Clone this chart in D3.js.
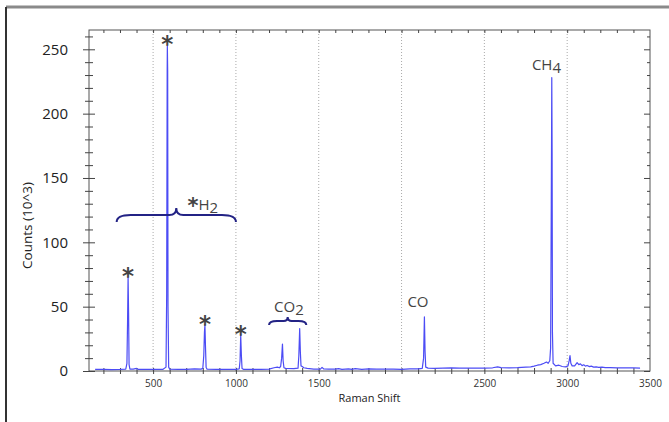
<!DOCTYPE html>
<html>
<head>
<meta charset="utf-8">
<script src="https://cdn.jsdelivr.net/npm/d3@7"></script>
<style>
  body { margin: 0; background: #fff; }
  svg text { font-family: "Open Sans", "Noto Sans", sans-serif; }
</style>
</head>
<body>
<div id="chart"></div>
<script>
// spectrum
const shift = [150, 200, 250, 300, 335, 342, 346, 349, 352, 355, 360, 380, 400, 410, 450, 500, 560,
  578, 582, 585, 586, 588, 590, 594, 600, 650, 700, 750, 790, 800, 806, 810, 813, 816, 820, 826,
  880, 950, 1000, 1020, 1025, 1029, 1033, 1037, 1045, 1100, 1150, 1200, 1230, 1250, 1262, 1270,
  1276, 1281, 1285, 1290, 1300, 1350, 1375, 1380, 1385, 1389, 1393, 1400, 1410, 1430, 1470, 1500,
  1510, 1520, 1530, 1560, 1600, 1620, 1640, 1680, 1700, 1720, 1760, 1800, 1850, 1900, 1950, 2000,
  2050, 2100, 2125, 2133, 2138, 2142, 2146, 2160, 2200, 2250, 2300, 2350, 2400, 2450, 2500, 2550,
  2580, 2600, 2650, 2700, 2750, 2780, 2800, 2820, 2840, 2860, 2875, 2885, 2895, 2900, 2904, 2906,
  2907, 2909, 2911, 2915, 2930, 2950, 2970, 2990, 3005, 3012, 3017, 3022, 3030, 3045, 3060, 3070,
  3080, 3090, 3100, 3110, 3120, 3135, 3145, 3160, 3175, 3190, 3210, 3230, 3260, 3300, 3350, 3400, 3440];
const counts = [1.2, 1.3, 1.0, 1.2, 1.5, 6, 40, 73, 45, 5, 1.5, 1.4, 2.0, 1.3, 1.2, 1.2, 1.3,
  3, 60, 233, 253, 233, 50, 3, 1.5, 1.3, 1.2, 1.6, 1.5, 2, 12, 30, 36, 20, 3, 1.4,
  1.2, 1.2, 1.3, 1.6, 8, 28, 12, 2, 1.3, 1.2, 1.3, 1.4, 2.5, 3, 2.5, 3.5,
  10, 21, 8, 2.5, 2, 1.8, 2.2, 12, 33, 15, 4, 3.5, 2.5, 2, 1.5, 1.4,
  1.5, 2.8, 1.6, 1.4, 1.5, 1.9, 1.3, 1.7, 1.3, 1.8, 1.3, 1.6, 1.4, 1.4, 1.4, 1.3,
  1.6, 1.7, 2, 10, 42, 15, 3, 2.2, 2, 2.2, 2.4, 2.3, 2.3, 2.2, 2.2, 2.5,
  3.2, 2.6, 2.5, 2.6, 3, 3.2, 3.8, 4.5, 5, 6, 7, 6, 8, 18, 130, 190,
  228, 170, 30, 6, 4, 4.5, 3.5, 3.2, 4, 8, 12, 6, 4, 4, 6.5, 5,
  5.5, 4.2, 4.8, 3.8, 4.3, 3.4, 3.8, 3, 3.2, 2.8, 3, 2.6, 2.7, 2.5, 2.4, 2.4, 2.3];

const xLabels = [500, 1000, 1500, 2500, 3000, 3500];
const gridValues = [500, 1000, 1500, 2000, 2500, 3000];
const yLabels = [0, 50, 100, 150, 200, 250];

// H2 peaks marked with a star: [shift, top count]
const h2Peaks = [[349, 73], [586, 253], [813, 36], [1029, 28]];
// gas labels: [text, subscript, shift, count]
const gasLabels = [["CH", "4", 2875, 234], ["CO", "2", 1320, 46], ["CO", "", 2099, 50]];

const width = 669;
const height = 422;
const margin = {top: 30, left: 89, right: 19, bottom: 51};

const svg = d3.select("#chart")
  .append("svg")
  .attr("width", width)
  .attr("height", height);

const x = d3.scaleLinear()
  .domain([113, 3500])
  .range([margin.left, width - margin.right]);

const y = d3.scaleLinear()
  .domain([0, 265])
  .range([height - margin.bottom, margin.top]);

const x0 = margin.left, x1 = width - margin.right;
const y0 = height - margin.bottom, y1 = margin.top;

/* outer frame of the figure */
svg.append("line").attr("x1", 6).attr("x2", width).attr("y1", 7).attr("y2", 7)
  .attr("stroke", "#8a8a8a").attr("stroke-width", 3);
svg.append("line").attr("x1", 6).attr("x2", 6).attr("y1", 7).attr("y2", height)
  .attr("stroke", "#333").attr("stroke-width", 2);

/* grid */
svg.append("g")
  .selectAll("line")
  .data(gridValues)
  .join("line")
  .attr("x1", d => x(d)).attr("x2", d => x(d))
  .attr("y1", y0).attr("y2", y1)
  .attr("stroke", "#aaa")
  .attr("stroke-dasharray", "1,2");

/* plot frame */
svg.append("rect")
  .attr("x", x0).attr("y", y1)
  .attr("width", x1 - x0).attr("height", y0 - y1)
  .attr("fill", "none").attr("stroke", "#555");

const minorX = d3.range(200, 3500, 100);
const minorY = d3.range(0, 261, 10);

// bottom ticks cross the axis
const bottomAxis = svg.append("g")
  .attr("transform", `translate(0,${y0})`)
  .call(d3.axisBottom(x).tickValues(minorX).tickFormat("").tickSize(3));
bottomAxis.select(".domain").remove();
bottomAxis.selectAll(".tick line").attr("y1", -3).attr("stroke", "#444");

const bottomLabels = svg.append("g")
  .attr("transform", `translate(0,${y0})`)
  .call(d3.axisBottom(x).tickValues(xLabels).tickFormat(d3.format("d")).tickSize(0).tickPadding(9));
bottomLabels.select(".domain").remove();
bottomLabels.selectAll("text").attr("font-size", 10).attr("fill", "#333")
  .style("font-family", "'Open Sans', sans-serif");

// top ticks point inward
const topAxis = svg.append("g")
  .attr("transform", `translate(0,${y1})`)
  .call(d3.axisBottom(x).tickValues(minorX).tickFormat("").tickSize(3));
topAxis.select(".domain").remove();
topAxis.selectAll(".tick line").attr("stroke", "#444");

// left ticks cross the axis, longer on labels
const leftAxis = svg.append("g")
  .attr("transform", `translate(${x0},0)`)
  .call(d3.axisLeft(y).tickValues(minorY).tickFormat("").tickSize(4));
leftAxis.select(".domain").remove();
leftAxis.selectAll(".tick line")
  .attr("x1", d => d % 50 === 0 ? 6 : 4)
  .attr("x2", d => d % 50 === 0 ? -6 : -4)
  .attr("stroke", "#444");

const leftLabels = svg.append("g")
  .attr("transform", `translate(${x0},0)`)
  .call(d3.axisLeft(y).tickValues(yLabels).tickSize(0).tickPadding(21));
leftLabels.select(".domain").remove();
leftLabels.selectAll("text").attr("font-size", 15).attr("fill", "#222");

// right ticks point inward
const rightAxis = svg.append("g")
  .attr("transform", `translate(${x1},0)`)
  .call(d3.axisLeft(y).tickValues(minorY).tickFormat("").tickSize(3));
rightAxis.select(".domain").remove();
rightAxis.selectAll(".tick line")
  .attr("x2", d => d % 50 === 0 ? -6 : -3)
  .attr("stroke", "#444");

/* axis titles */
svg.append("text")
  .attr("x", (x0 + x1) / 2)
  .attr("y", 402)
  .attr("text-anchor", "middle")
  .attr("font-size", 11)
  .attr("fill", "#222")
  .text("Raman Shift");

svg.append("text")
  .attr("transform", `translate(32,${(y0 + y1) / 2 + 25}) rotate(-90)`)
  .attr("text-anchor", "middle")
  .attr("font-size", 13.5)
  .attr("fill", "#222")
  .text("Counts (10^3)");

/* spectrum */
const line = d3.line()
  .x(d => x(d[0]))
  .y(d => y(d[1]));

svg.append("path")
  .datum(d3.zip(shift, counts))
  .attr("d", line)
  .attr("fill", "none")
  .attr("stroke", "#4c4cf5")
  .attr("stroke-width", 1.2)
  .attr("stroke-linejoin", "round");

/* stars over the H2 peaks */
svg.append("g")
  .selectAll("text")
  .data(h2Peaks)
  .join("text")
  .attr("x", d => x(d[0]))
  .attr("y", d => y(d[1]) + 7)
  .attr("text-anchor", "middle")
  .attr("font-size", 23)
  .attr("font-weight", "bold")
  .attr("fill", "#444")
  .style("font-family", "'DejaVu Sans', sans-serif")
  .text("*");

/* gas labels */
const gas = svg.append("g")
  .selectAll("text")
  .data(gasLabels)
  .join("text")
  .attr("x", d => x(d[2]))
  .attr("y", d => y(d[3]))
  .attr("text-anchor", "middle")
  .attr("font-size", 15)
  .attr("fill", "#444");
gas.append("tspan").text(d => d[0]);
gas.append("tspan").attr("dy", 3).text(d => d[1]);

// H2 label with its star
const h2 = svg.append("text")
  .attr("x", x(800))
  .attr("y", 210)
  .attr("text-anchor", "middle")
  .attr("font-size", 15)
  .attr("fill", "#444");
h2.append("tspan").attr("font-size", 21).attr("font-weight", "bold")
  .attr("dy", 3).style("font-family", "'DejaVu Sans', sans-serif").text("*");
h2.append("tspan").attr("dy", -3).text("H");
h2.append("tspan").attr("dy", 3).text("2");

/* braces */
function brace(xa, xb, yb, depth) {
  const xm = (xa + xb) / 2;
  const q = depth;
  return `M${xa},${yb + q} Q${xa},${yb} ${xa + 2 * q},${yb}` +
    ` L${xm - q},${yb} Q${xm},${yb} ${xm},${yb - q}` +
    ` Q${xm},${yb} ${xm + q},${yb} L${xb - 2 * q},${yb} Q${xb},${yb} ${xb},${yb + q}`;
}

svg.append("path")
  .attr("d", brace(x(280), x(1000), 215, 7))
  .attr("fill", "none").attr("stroke", "#232385").attr("stroke-width", 2);

svg.append("path")
  .attr("d", brace(x(1200), x(1425), 321, 4))
  .attr("fill", "none").attr("stroke", "#232385").attr("stroke-width", 2);
</script>
</body>
</html>
